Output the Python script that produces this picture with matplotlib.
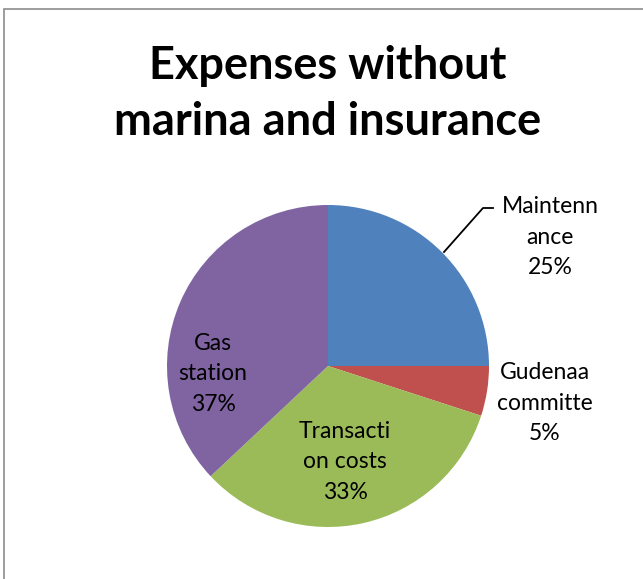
import matplotlib
matplotlib.use("Agg")
import matplotlib.pyplot as plt
from matplotlib.patches import Rectangle

# Expense shares (percent)
categories = ["Maintenance", "Gudenaa committe", "Transaction costs", "Gas station"]
label_text = ["Maintenn\nance", "Gudenaa\ncommitte", "Transacti\non costs", "Gas\nstation"]
shares = [25, 5, 33, 37]
colors = ["#4F81BD", "#C0504D", "#9BBB59", "#8064A2"]

W, H = 643, 579
fig = plt.figure(figsize=(W / 100, H / 100), dpi=100)
ax = fig.add_axes([0, 0, 1, 1])

# chart frame
fig.patches.append(Rectangle((4 / W, -0.05), 1.1, (H - 9) / H + 0.05,
                             transform=fig.transFigure, fill=False,
                             edgecolor="#8c8c8c", linewidth=1.2))

cx, cy, r = 328, H - 366, 161
wedges, _ = ax.pie(shares, colors=colors, startangle=90, counterclock=False,
                   center=(cx, cy), radius=r, frame=True,
                   wedgeprops=dict(linewidth=0))
ax.set_xlim(0, W)
ax.set_ylim(0, H)
ax.set_aspect("equal")
ax.axis("off")

font = "Lato"
ax.text(W / 2 + 6, H - 94, "Expenses without\nmarina and insurance", ha="center",
        va="center", fontsize=32.5, fontweight="bold", family=font,
        linespacing=1.42)

label_pos = [(550, H - 237), (545, H - 403), (345, H - 462), (213, H - 374)]
for txt, v, (x, y) in zip(label_text, shares, label_pos):
    ax.text(x, y, f"{txt}\n{v}%", ha="center", va="center", fontsize=16.5,
            family=font, linespacing=1.55, color="#000000")

# leader line for the maintenance label
ax.plot([444, 483, 493], [H - 252, H - 208, H - 208], color="black", lw=1.3)

fig.savefig("out.png", dpi=100)
